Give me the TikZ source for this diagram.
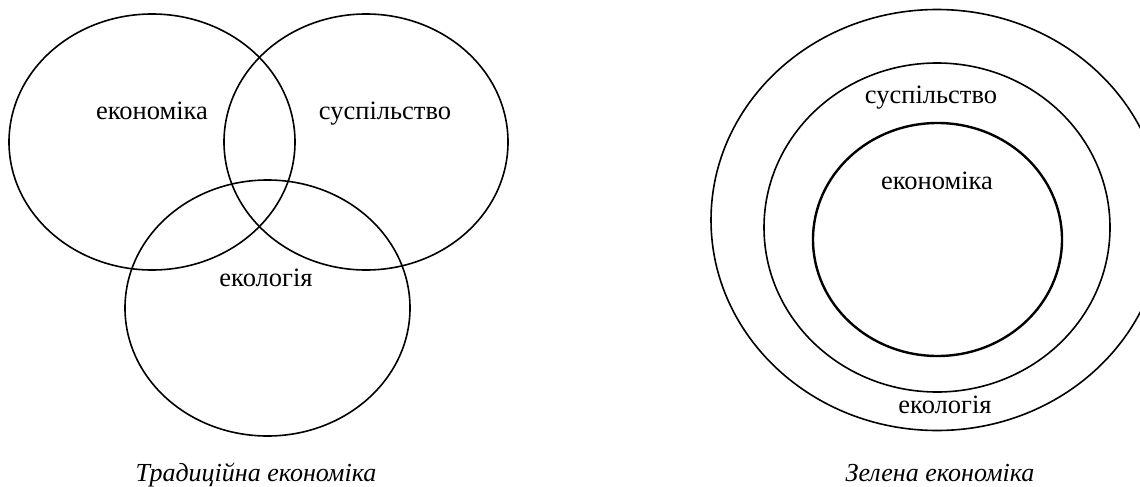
\documentclass[tikz,border=0pt]{standalone}
\usepackage{fontspec}
\setmainfont{Liberation Serif}
\begin{document}
\begin{tikzpicture}[x=1pt,y=-1pt,
  ring/.style={draw=black,line width=1.6pt},
  thickring/.style={draw=black,line width=2.4pt},
  lbl/.style={anchor=base,inner sep=0pt,font=\fontsize{26.5}{30}\selectfont},
  captext/.style={anchor=base,inner sep=0pt,font=\fontsize{26}{30}\selectfont\itshape}]
\useasboundingbox (0,0) rectangle (1140,487);
\clip (0,0) rectangle (1140,487);
% left: traditional economy
\draw[ring] (152,142) ellipse [x radius=143pt, y radius=128pt];
\draw[ring] (366,142) ellipse [x radius=142pt, y radius=128pt];
\draw[ring] (267.5,308) ellipse [x radius=142.5pt, y radius=128pt];
\node[lbl] (econL) at (152,119) {економіка};
\node[lbl] (socL) at (385,119) {суспільство};
\node[lbl] (ecoL) at (266,286) {екологія};
\node[captext] (capL) at (256,481) {Традиційна економіка};
% right: green economy
\draw[ring] (937,220) ellipse [x radius=226pt, y radius=210.5pt];
\draw[ring] (937,227.5) ellipse [x radius=173pt, y radius=164.5pt];
\draw[thickring] (937.5,239.5) ellipse [x radius=124.5pt, y radius=116.5pt];
\node[lbl] (socR) at (931,103) {суспільство};
\node[lbl] (econR) at (937,189) {економіка};
\node[lbl] (ecoR) at (945,413) {екологія};
\node[captext] (capR) at (940,481) {Зелена економіка};
\end{tikzpicture}
\end{document}
